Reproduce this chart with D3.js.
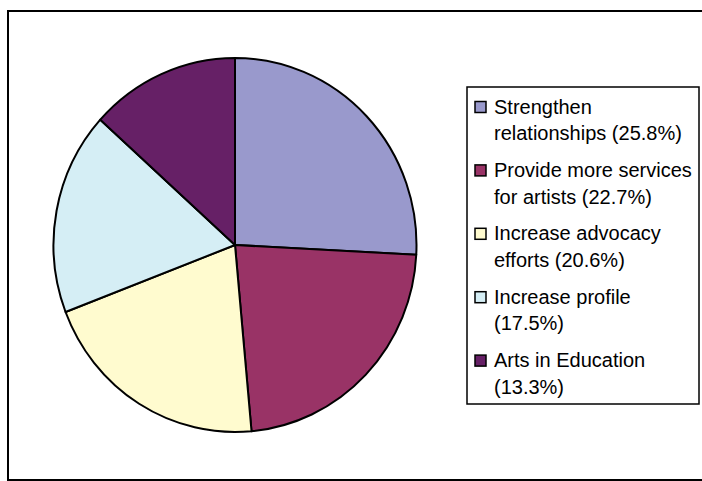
<!DOCTYPE html>
<html>
<head>
<meta charset="utf-8">
<script src="https://cdn.jsdelivr.net/npm/d3@7"></script>
<style>
  html, body { margin: 0; padding: 0; background: #fff; }
  svg { display: block; }
  text { font-family: "Liberation Sans", Arial, sans-serif; fill: #000; }
</style>
</head>
<body>
<svg id="chart" width="702" height="481"></svg>
<script>
// Survey priorities (share of responses, %)
const categories = [
  "Strengthen relationships",
  "Provide more services for artists",
  "Increase advocacy efforts",
  "Increase profile",
  "Arts in Education"
];
const values = [25.8, 22.7, 20.6, 17.5, 13.3];
// legend text, wrapped into two lines per entry
const legendLines = [
  ["Strengthen", "relationships (25.8%)"],
  ["Provide more services", "for artists (22.7%)"],
  ["Increase advocacy", "efforts (20.6%)"],
  ["Increase profile", "(17.5%)"],
  ["Arts in Education", "(13.3%)"]
];
const colors = ["#9999CC", "#993366", "#FFFBCF", "#D5EEF5", "#662066"];

const svg = d3.select("#chart");

// outer frame
svg.append("rect")
  .attr("x", 8).attr("y", 11)
  .attr("width", 700).attr("height", 469)
  .attr("fill", "#fff")
  .attr("stroke", "#000")
  .attr("stroke-width", 2);

// pie (slightly taller than wide)
const cx = 235, cy = 245, rx = 181.5, ry = 187;
const color = d3.scaleOrdinal().domain(categories).range(colors);
const pie = d3.pie().sort(null).value(d => d.value);
const arc = d3.arc().innerRadius(0).outerRadius(rx);
const data = categories.map((c, i) => ({ name: c, value: values[i] }));

const g = svg.append("g")
  .attr("transform", `translate(${cx},${cy}) scale(1,${ry / rx})`);

g.selectAll("path")
  .data(pie(data))
  .join("path")
  .attr("d", arc)
  .attr("fill", d => color(d.data.name))
  .attr("stroke", "#000")
  .attr("stroke-width", 2)
  .attr("stroke-linejoin", "round")
  .attr("vector-effect", "non-scaling-stroke");

// legend
const lg = svg.append("g");
lg.append("rect")
  .attr("x", 467).attr("y", 87)
  .attr("width", 232).attr("height", 317)
  .attr("fill", "#fff")
  .attr("stroke", "#000")
  .attr("stroke-width", 1.5);

const firstBase = 113.5, itemGap = 63.4, lineGap = 26.8;
const items = lg.selectAll("g.item")
  .data(categories)
  .join("g")
  .attr("class", "item")
  .attr("transform", (d, i) => `translate(0,${firstBase + i * itemGap})`);

items.append("rect")
  .attr("x", 475).attr("y", -12)
  .attr("width", 11).attr("height", 11)
  .attr("fill", d => color(d))
  .attr("stroke", "#000")
  .attr("stroke-width", 1.5);

items.each(function (d, i) {
  const t = d3.select(this);
  legendLines[i].forEach((line, j) => {
    t.append("text")
      .attr("x", 494)
      .attr("y", j * lineGap)
      .attr("font-size", 20)
      .text(line);
  });
});
</script>
</body>
</html>
